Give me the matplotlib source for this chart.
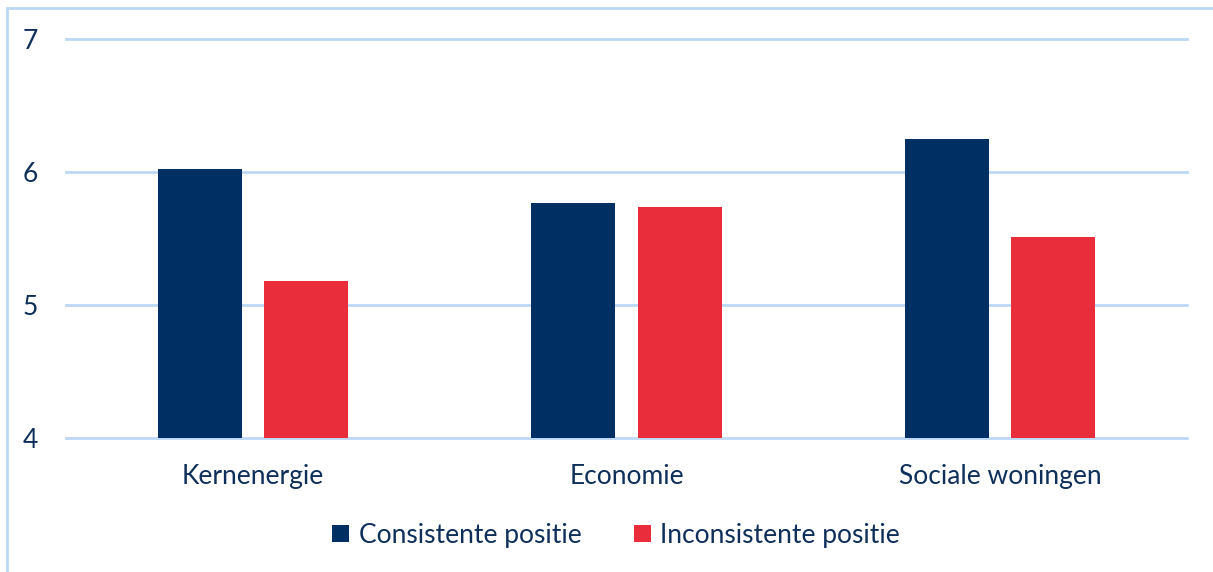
import matplotlib.pyplot as plt
import numpy as np
from matplotlib.patches import Rectangle

categories = ['Kernenergie', 'Economie', 'Sociale woningen']
consistent = [6.02, 5.77, 6.25]
inconsistent = [5.18, 5.74, 5.51]
series_names = ['Consistente positie', 'Inconsistente positie']

navy = '#003063'
red = '#e92d3a'
grid_col = '#bdd8f7'
text_col = '#0e2f5a'

plt.rcParams['font.family'] = ['Lato', 'DejaVu Sans']

fig = plt.figure(figsize=(12.13, 5.72), dpi=100)
ax = fig.add_axes([0.0544, 0.2343, 0.9242, 0.6975])

x = np.arange(len(categories))
w = 0.225
off = 0.142
ax.bar(x - off, consistent, w, color=navy, label=series_names[0], zorder=3)
ax.bar(x + off, inconsistent, w, color=red, label=series_names[1], zorder=3)

ax.set_xlim(-0.5, 2.5)
ax.set_ylim(4, 7)
ax.set_yticks([4, 5, 6, 7])
ax.yaxis.grid(True, color=grid_col, linewidth=2, zorder=0)
for gl in ax.get_ygridlines():
    gl.set_clip_on(False)
ax.set_axisbelow(True)
for s in ax.spines.values():
    s.set_visible(False)
ax.tick_params(axis='both', length=0, labelsize=19, labelcolor=text_col)
ax.tick_params(axis='y', pad=20)
ax.tick_params(axis='x', pad=19)
ax.set_xticks(x)
ax.set_xticklabels(categories)

leg = fig.legend(loc='center', bbox_to_anchor=(0.508, 0.064), ncol=2, frameon=False,
                 fontsize=19, handlelength=0.65, handleheight=0.65, handletextpad=0.35,
                 columnspacing=2.0)
for t in leg.get_texts():
    t.set_color(text_col)

# outer chart border (partly cropped in the original)
fig.patches.append(Rectangle((7 / 1213, -0.1), 1.2, 1.1 - 8 / 572, transform=fig.transFigure,
                             fill=False, edgecolor=grid_col, linewidth=2))

fig.savefig('out.png', dpi=100)
